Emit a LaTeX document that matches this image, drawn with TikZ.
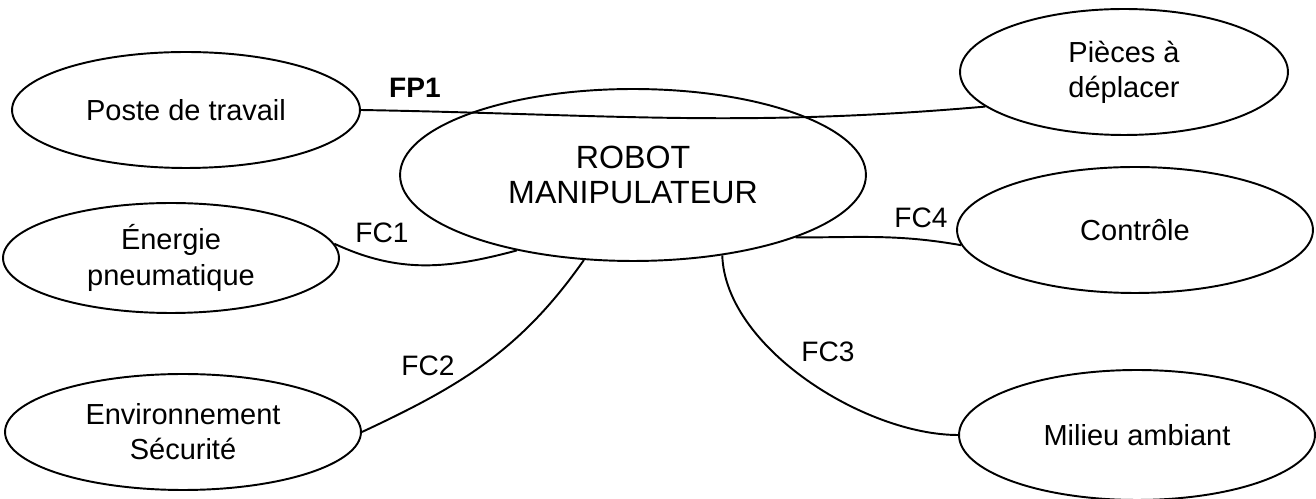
\documentclass[tikz,border=0pt]{standalone}
\usepackage{fontspec}
\setmainfont{Liberation Sans}
\usetikzlibrary{shapes.geometric}

\tikzset{
  bulle/.style={draw,ellipse,line width=1.1pt,inner sep=0pt,align=center,font=\fontsize{16.5}{20}\selectfont},
  lien/.style={line width=1.1pt},
  etiq/.style={font=\fontsize{16}{19}\selectfont}
}

\begin{document}
\begin{tikzpicture}[x=0.02cm,y=-0.02cm]
    \useasboundingbox (0,0) rectangle (1316,499);
    % interacteurs
    \node[bulle,minimum width=6.96cm,minimum height=2.32cm] (poste) at (186,110) {Poste de travail};
    \node[bulle,minimum width=6.72cm,minimum height=2.2cm] (ener) at (171,258) {Énergie\\pneumatique};
    \node[bulle,minimum width=7.12cm,minimum height=2.32cm] (env) at (183,432) {Environnement\\Sécurité};
    \node[bulle,minimum width=9.32cm,minimum height=3.44cm,font=\fontsize{18.3}{20}\selectfont] (rob) at (633,175) {ROBOT\\MANIPULATEUR};
    \node[bulle,minimum width=6.56cm,minimum height=2.52cm] (pieces) at (1124,72) {Pièces à\\déplacer};
    \node[bulle,minimum width=7.12cm,minimum height=2.52cm] (ctrl) at (1135,230) {Contrôle};
    \node[bulle,minimum width=7.12cm,minimum height=2.6cm] (mil) at (1137,435) {Milieu ambiant};

    % fonctions
    \draw[lien] (poste.east) to[out=-1,in=185] (pieces.194);
    \draw[lien] (ener.5) to[out=-25,in=195] (rob.213);
    \draw[lien] (env.east) to[out=25,in=235] (rob.240);
    \draw[lien] (rob.318) to[out=-88,in=180,looseness=0.8] (mil.west);
    \draw[lien] (rob.339) to[out=0,in=170] (ctrl.185);

    \node[etiq,font=\fontsize{16}{19}\selectfont\bfseries] at (415,88) {FP1};
    \node[etiq] at (382,233) {FC1};
    \node[etiq] at (428,366) {FC2};
    \node[etiq] at (828,352) {FC3};
    \node[etiq] at (921,218) {FC4};
\end{tikzpicture}
\end{document}
